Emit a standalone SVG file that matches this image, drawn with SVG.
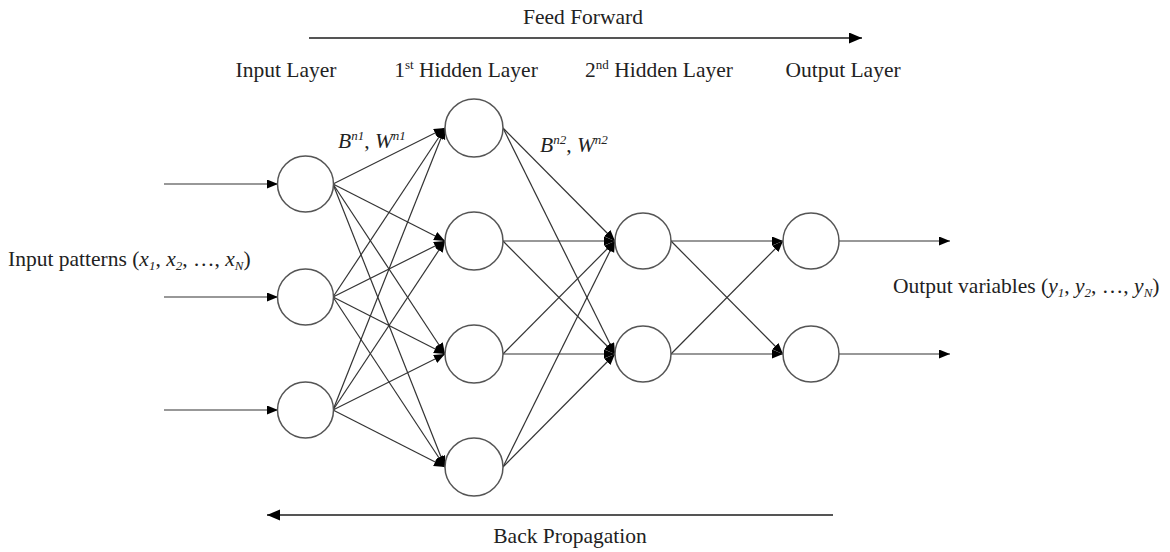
<svg xmlns="http://www.w3.org/2000/svg" width="1170" height="552" viewBox="0 0 1170 552">
<style>
text{font-family:"Liberation Serif","Times New Roman",serif;font-size:21.5px;fill:#222}
.it{font-style:italic}
.sm{font-size:13px}
.node{fill:#fff;stroke:#555;stroke-width:1.5}
.edge{stroke:#333;stroke-width:1.2;fill:none;marker-end:url(#ah)}
.big{stroke:#555;stroke-width:2.2;fill:none}
</style>
<defs>
<marker id="ah" markerUnits="userSpaceOnUse" markerWidth="12" markerHeight="10" refX="11" refY="4.5" orient="auto">
<path d="M0,0 L11,4.5 L0,9 z" fill="#000"/>
</marker>
<marker id="ahb" markerUnits="userSpaceOnUse" markerWidth="14" markerHeight="12" refX="13" refY="5.5" orient="auto">
<path d="M0,0 L13,5.5 L0,11 z" fill="#000"/>
</marker>
</defs>
<g id="labels">
<text x="583" y="24" text-anchor="middle">Feed Forward</text>
<text x="286" y="77" text-anchor="middle">Input Layer</text>
<text x="466" y="77" text-anchor="middle">1<tspan class="sm" dy="-8">st</tspan><tspan dy="8"> Hidden Layer</tspan></text>
<text x="659" y="77" text-anchor="middle">2<tspan class="sm" dy="-8">nd</tspan><tspan dy="8"> Hidden Layer</tspan></text>
<text x="843" y="77" text-anchor="middle">Output Layer</text>
<text x="8" y="266">Input patterns (<tspan class="it">x</tspan><tspan class="it sm" dy="4">1</tspan><tspan dy="-4">, </tspan><tspan class="it">x</tspan><tspan class="it sm" dy="4">2</tspan><tspan dy="-4">, …, </tspan><tspan class="it">x</tspan><tspan class="it sm" dy="4">N</tspan><tspan dy="-4">)</tspan></text>
<text x="893" y="293">Output variables (<tspan class="it">y</tspan><tspan class="it sm" dy="4">1</tspan><tspan dy="-4">, </tspan><tspan class="it">y</tspan><tspan class="it sm" dy="4">2</tspan><tspan dy="-4">, …, </tspan><tspan class="it">y</tspan><tspan class="it sm" dy="4">N</tspan><tspan dy="-4">)</tspan></text>
<text x="338" y="148"><tspan class="it">B</tspan><tspan class="it sm" dy="-8">n1</tspan><tspan dy="8">, </tspan><tspan class="it">W</tspan><tspan class="it sm" dy="-8">n1</tspan></text>
<text x="540" y="152"><tspan class="it">B</tspan><tspan class="it sm" dy="-8">n2</tspan><tspan dy="8">, </tspan><tspan class="it">W</tspan><tspan class="it sm" dy="-8">n2</tspan></text>
<text x="570" y="543" text-anchor="middle">Back Propagation</text>
</g>
<g id="connectors">
<line class="big" x1="309" y1="38" x2="862" y2="38" marker-end="url(#ahb)"/>
<line class="big" x1="833" y1="515" x2="267" y2="515" marker-end="url(#ahb)"/>
<line class="edge" x1="164" y1="184" x2="278" y2="184"/>
<line class="edge" x1="164" y1="297" x2="278" y2="297"/>
<line class="edge" x1="164" y1="410" x2="278" y2="410"/>
<line class="edge" x1="333" y1="184" x2="445" y2="128"/>
<line class="edge" x1="333" y1="184" x2="445" y2="241"/>
<line class="edge" x1="333" y1="184" x2="445" y2="354"/>
<line class="edge" x1="333" y1="184" x2="445" y2="467"/>
<line class="edge" x1="333" y1="297" x2="445" y2="128"/>
<line class="edge" x1="333" y1="297" x2="445" y2="241"/>
<line class="edge" x1="333" y1="297" x2="445" y2="354"/>
<line class="edge" x1="333" y1="297" x2="445" y2="467"/>
<line class="edge" x1="333" y1="410" x2="445" y2="128"/>
<line class="edge" x1="333" y1="410" x2="445" y2="241"/>
<line class="edge" x1="333" y1="410" x2="445" y2="354"/>
<line class="edge" x1="333" y1="410" x2="445" y2="467"/>
<line class="edge" x1="503" y1="128" x2="615" y2="241"/>
<line class="edge" x1="503" y1="128" x2="615" y2="354"/>
<line class="edge" x1="503" y1="241" x2="615" y2="241"/>
<line class="edge" x1="503" y1="241" x2="615" y2="354"/>
<line class="edge" x1="503" y1="354" x2="615" y2="241"/>
<line class="edge" x1="503" y1="354" x2="615" y2="354"/>
<line class="edge" x1="503" y1="467" x2="615" y2="241"/>
<line class="edge" x1="503" y1="467" x2="615" y2="354"/>
<line class="edge" x1="671" y1="241" x2="783" y2="241"/>
<line class="edge" x1="671" y1="241" x2="783" y2="354"/>
<line class="edge" x1="671" y1="354" x2="783" y2="241"/>
<line class="edge" x1="671" y1="354" x2="783" y2="354"/>
<line class="edge" x1="839" y1="241" x2="950" y2="241"/>
<line class="edge" x1="839" y1="354" x2="950" y2="354"/>
</g>
<g id="in1"><circle class="node" cx="305.5" cy="184" r="28"/></g>
<g id="in2"><circle class="node" cx="305.5" cy="297" r="28"/></g>
<g id="in3"><circle class="node" cx="305.5" cy="410" r="28"/></g>
<g id="h1a"><circle class="node" cx="474" cy="128" r="29"/></g>
<g id="h1b"><circle class="node" cx="474" cy="241" r="29"/></g>
<g id="h1c"><circle class="node" cx="474" cy="354" r="29"/></g>
<g id="h1d"><circle class="node" cx="474" cy="467" r="29"/></g>
<g id="h2a"><circle class="node" cx="643" cy="241" r="28"/></g>
<g id="h2b"><circle class="node" cx="643" cy="354" r="28"/></g>
<g id="out1"><circle class="node" cx="811" cy="241" r="28"/></g>
<g id="out2"><circle class="node" cx="811" cy="354" r="28"/></g>
</svg>
